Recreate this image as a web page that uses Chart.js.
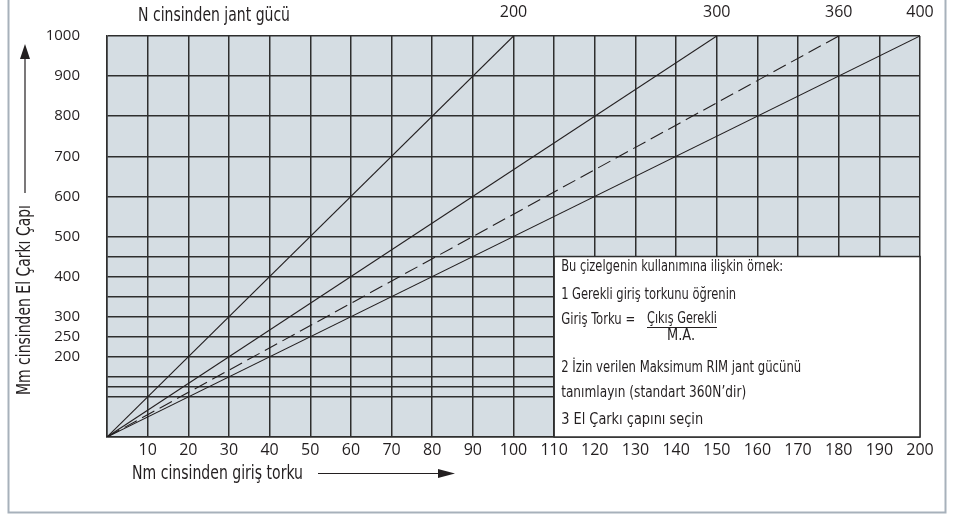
<!DOCTYPE html>
<html>
<head>
<meta charset="utf-8">
<script src="https://cdn.jsdelivr.net/npm/chart.js@4.4.1/dist/chart.umd.min.js"></script>
<style>
  html, body { margin: 0; padding: 0; background: #fff; }
  #wrap { width: 956px; height: 515px; }
</style>
</head>
<body>
<div id="wrap"><canvas id="chart"></canvas></div>
<script>
// rim force lines (N) and the torque (Nm) each reaches at 1000 mm
const rimForces = [200, 300, 360, 400];
const torqueAt1000 = [100, 150, 180, 200];
const dashedLine = [false, false, true, false];

// diameter grid (mm) and which of those get a label
const yGrid = [0, 100, 125, 150, 200, 250, 300, 350, 400, 450, 500, 600, 700, 800, 900, 1000];
const yLabels = [200, 250, 300, 400, 500, 600, 700, 800, 900, 1000];

// torque ticks (Nm)
const xTicks = [0, 10, 20, 30, 40, 50, 60, 70, 80, 90, 100, 110, 120, 130, 140, 150, 160, 170, 180, 190, 200];

// note box in the lower right (data units)
const boxFrom = 110, boxTo = 200, boxTop = 450;
const boxLines = [
  "Bu çizelgenin kullanımına ilişkin örnek:",
  "1 Gerekli giriş torkunu öğrenin",
  "Giriş Torku =",
  "Çıkış Gerekli",
  "M.A.",
  "2 İzin verilen Maksimum RIM jant gücünü",
  "tanımlayın (standart 360N’dir)",
  "3 El Çarkı çapını seçin"
];

const INK = "#231f20";
const GRID = "#2e2e2e";
const NARROW = "'Liberation Sans Narrow', 'DejaVu Sans Condensed', 'Liberation Sans', sans-serif";
const NUM = "'Open Sans', 'DejaVu Sans', sans-serif";

const datasets = rimForces.map((f, i) => ({
  label: f + " N",
  data: [{ x: 0, y: 0 }, { x: torqueAt1000[i], y: 1000 }],
  borderColor: INK,
  borderWidth: 1.1,
  borderDash: dashedLine[i] ? [14, 6] : [],
  pointRadius: 0,
  fill: false,
  tension: 0,
}));

function txt(ctx, s, x, y, size, width) {
  ctx.font = size + "px " + NARROW;
  ctx.fillText(s, x, y, width);
}

const decor = {
  id: "decor",
  beforeDraw(chart) {
    const { ctx, chartArea: a } = chart;
    ctx.save();
    ctx.fillStyle = "#d5dde3";
    ctx.fillRect(a.left, a.top, a.right - a.left, a.bottom - a.top);
    ctx.restore();
  },
  beforeDatasetsDraw(chart) {
    const { ctx, scales: { x, y } } = chart;
    const l = x.getPixelForValue(boxFrom), r = x.getPixelForValue(boxTo);
    const t = y.getPixelForValue(boxTop), b = y.getPixelForValue(0);
    ctx.save();
    ctx.fillStyle = "#fff";
    ctx.fillRect(l, t, r - l, b - t);
    ctx.strokeStyle = GRID;
    ctx.lineWidth = 1.5;
    ctx.strokeRect(l, t, r - l, b - t);
    ctx.restore();
  },
  afterDraw(chart) {
    const { ctx, scales: { x, y } } = chart;
    ctx.save();
    ctx.fillStyle = INK;
    ctx.strokeStyle = INK;
    ctx.textBaseline = "middle";
    ctx.textAlign = "left";

    // top title
    txt(ctx, "N cinsinden jant gücü", 138, 16, 19, 152);

    // x title + arrow
    txt(ctx, "Nm cinsinden giriş torku", 132, 474, 19, 171);
    ctx.lineWidth = 1.2;
    ctx.beginPath(); ctx.moveTo(318, 473.5); ctx.lineTo(442, 473.5); ctx.stroke();
    ctx.beginPath(); ctx.moveTo(455, 473.5); ctx.lineTo(438, 469); ctx.lineTo(438, 478); ctx.closePath(); ctx.fill();

    // y title + arrow
    ctx.save();
    ctx.translate(25, 300);
    ctx.rotate(-Math.PI / 2);
    ctx.textAlign = "center";
    txt(ctx, "Mm cinsinden El Çarkı Çapı", 0, 0, 19, 190);
    ctx.restore();
    ctx.beginPath(); ctx.moveTo(25, 193); ctx.lineTo(25, 56); ctx.stroke();
    ctx.beginPath(); ctx.moveTo(25, 44); ctx.lineTo(20, 59); ctx.lineTo(30, 59); ctx.closePath(); ctx.fill();

    // note box text
    const bx = x.getPixelForValue(boxFrom) + 7;
    txt(ctx, boxLines[0], bx, 267, 16, 222);
    txt(ctx, boxLines[1], bx, 295, 16, 175);
    txt(ctx, boxLines[2], bx, 320, 16, 74);
    txt(ctx, boxLines[3], 647, 319, 16, 70);
    ctx.lineWidth = 1;
    ctx.beginPath(); ctx.moveTo(647, 327.5); ctx.lineTo(717, 327.5); ctx.stroke();
    txt(ctx, boxLines[4], 667, 336, 16, 28);
    txt(ctx, boxLines[5], bx, 368, 16, 240);
    txt(ctx, boxLines[6], bx, 393, 16, 185);
    txt(ctx, boxLines[7], bx, 420, 16, 142);

    // outer frame
    ctx.strokeStyle = "#a7b1bb";
    ctx.lineWidth = 2;
    ctx.strokeRect(8.5, -5, 937, 517.5);
    ctx.restore();
  }
};

new Chart(document.getElementById("chart"), {
  type: "line",
  data: { datasets },
  options: {
    responsive: true,
    maintainAspectRatio: false,
    animation: false,
    events: [],
    layout: { padding: { left: 0, right: 36, top: 0, bottom: 0 } },
    plugins: { legend: { display: false }, tooltip: { enabled: false } },
    scales: {
      x: {
        type: "linear",
        min: 0,
        max: 200,
        afterBuildTicks: (s) => { s.ticks = xTicks.map((v) => ({ value: v })); },
        afterFit: (s) => { s.height = 78; },
        grid: { color: GRID, lineWidth: 1.5, drawTicks: false },
        border: { color: GRID, width: 1.5 },
        ticks: {
          autoSkip: false,
          maxRotation: 0,
          padding: 4,
          color: INK,
          font: { family: NUM, size: 16 },
          callback: (v) => (v === 0 ? "" : v),
        },
      },
      x2: {
        type: "linear",
        position: "top",
        min: 0,
        max: 200,
        afterBuildTicks: (s) => { s.ticks = torqueAt1000.map((v) => ({ value: v })); },
        afterFit: (s) => { s.height = 33; },
        grid: { display: false },
        border: { display: false },
        ticks: {
          autoSkip: false,
          maxRotation: 0,
          padding: 6,
          color: INK,
          font: { family: NUM, size: 16 },
          callback: (v, i) => rimForces[i],
        },
      },
      y: {
        type: "linear",
        min: 0,
        max: 1000,
        afterBuildTicks: (s) => { s.ticks = yGrid.map((v) => ({ value: v })); },
        afterFit: (s) => { s.width = 107; },
        grid: { color: GRID, lineWidth: 1.5, drawTicks: false },
        border: { color: GRID, width: 1.5 },
        ticks: {
          autoSkip: false,
          padding: 27,
          color: INK,
          font: { family: NUM, size: 15 },
          callback: (v) => (yLabels.includes(v) ? v : ""),
        },
      },
    },
  },
  plugins: [decor],
});
</script>
</body>
</html>
